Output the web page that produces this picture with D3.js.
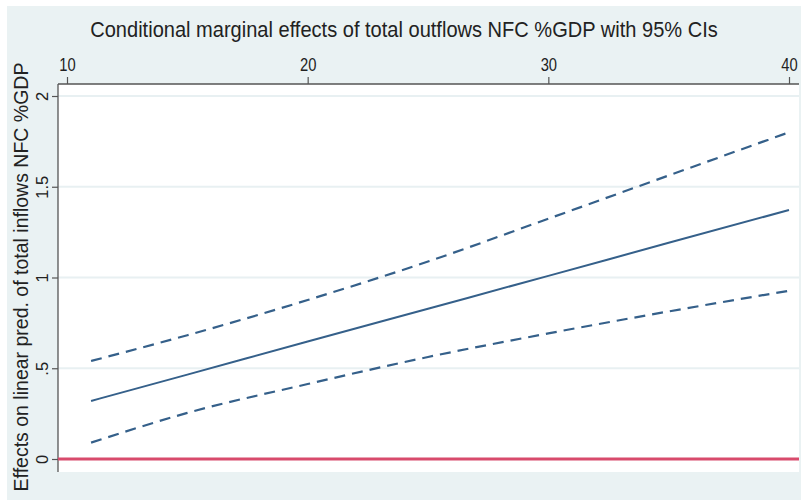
<!DOCTYPE html>
<html>
<head>
<meta charset="utf-8">
<script src="https://cdn.jsdelivr.net/npm/d3@7"></script>
<style>
  body { margin: 0; background: #ffffff; }
  svg { display: block; font-family: "Liberation Sans", Arial, sans-serif; }
</style>
</head>
<body>
<div id="chart"></div>
<script>
// values at total outflows NFC %GDP
const xValues = [11, 15, 20, 25, 30, 35, 40];
const effect  = [0.32, 0.465, 0.647, 0.828, 1.009, 1.191, 1.372];
const upperCI = [0.54, 0.682, 0.876, 1.088, 1.324, 1.562, 1.80];
const lowerCI = [0.09, 0.254, 0.413, 0.562, 0.692, 0.813, 0.927];

const xTicks = [10, 20, 30, 40];
const yTicks = [0, 0.5, 1, 1.5, 2];
const yTickLabels = ["0", ".5", "1", "1.5", "2"];

const title = "Conditional marginal effects of total outflows NFC %GDP with 95% CIs";
const yTitle = "Effects on linear pred. of total inflows NFC %GDP";

const width = 801, height = 500;
const plot = { left: 58, right: 799, top: 84, bottom: 472 };

const svg = d3.select("#chart").append("svg")
  .attr("width", width)
  .attr("height", height);

// background
svg.append("rect")
  .attr("x", 7).attr("y", 6)
  .attr("width", width - 7).attr("height", height - 6)
  .attr("fill", "#eaf2f3");

svg.append("rect")
  .attr("x", plot.left).attr("y", plot.top)
  .attr("width", plot.right - plot.left).attr("height", plot.bottom - plot.top)
  .attr("fill", "#ffffff");

const x = d3.scaleLinear().domain([10, 40]).range([67, 789]);
const y = d3.scaleLinear().domain([0, 2]).range([459, 96]);

// grid lines
svg.append("g")
  .selectAll("line")
  .data(yTicks.filter(d => d > 0))
  .enter().append("line")
  .attr("x1", plot.left).attr("x2", plot.right)
  .attr("y1", d => y(d)).attr("y2", d => y(d))
  .attr("stroke", "#e8f0f2")
  .attr("stroke-width", 2);

// top axis
const xAxis = svg.append("g")
  .attr("transform", `translate(0,${plot.top})`)
  .call(d3.axisTop(x).tickValues(xTicks).tickSize(7).tickPadding(6).tickSizeOuter(0));
xAxis.select(".domain").attr("d", `M${plot.left},0H${plot.right}`);

// left axis
const yAxis = svg.append("g")
  .attr("transform", `translate(${plot.left},0)`)
  .call(d3.axisLeft(y).tickValues(yTicks).tickFormat((d, i) => yTickLabels[i]).tickSize(6).tickSizeOuter(0));
yAxis.select(".domain").attr("d", `M0,${plot.top}V${plot.bottom}`);

svg.selectAll(".domain").attr("stroke", "#555").attr("stroke-width", 1.3);
svg.selectAll(".tick line").attr("stroke", "#555").attr("stroke-width", 1.2);

xAxis.selectAll("text")
  .attr("font-size", 18)
  .attr("fill", "#222")
  .attr("transform", "scale(0.82,1)");

yAxis.selectAll("text")
  .attr("font-size", 16.5)
  .attr("fill", "#222")
  .attr("text-anchor", "middle")
  .attr("x", 0).attr("dy", 0)
  .attr("transform", "translate(-10,0) rotate(-90)");

// zero line
svg.append("line")
  .attr("x1", plot.left).attr("x2", plot.right)
  .attr("y1", y(0)).attr("y2", y(0))
  .attr("stroke", "#d84a6c")
  .attr("stroke-width", 3);

// lines
const line = (vals) => d3.line()
  .x((d, i) => x(xValues[i]))
  .y(d => y(d))
  .curve(d3.curveMonotoneX)(vals);

svg.append("path")
  .attr("d", line(upperCI))
  .attr("fill", "none")
  .attr("stroke", "#35608a")
  .attr("stroke-width", 2.2)
  .attr("stroke-dasharray", "11,7");

svg.append("path")
  .attr("d", line(lowerCI))
  .attr("fill", "none")
  .attr("stroke", "#35608a")
  .attr("stroke-width", 2.2)
  .attr("stroke-dasharray", "11,7");

svg.append("path")
  .attr("d", line(effect))
  .attr("fill", "none")
  .attr("stroke", "#35608a")
  .attr("stroke-width", 2);

// title, squeezed a bit horizontally like the original
const t = svg.append("text")
  .attr("text-anchor", "middle")
  .attr("font-size", 23)
  .attr("fill", "#222")
  .text(title);
const k = 628 / t.node().getComputedTextLength();
t.attr("transform", `translate(404,37) scale(${k},1)`);

// y axis title
svg.append("text")
  .attr("transform", "translate(28,277) rotate(-90)")
  .attr("text-anchor", "middle")
  .attr("font-size", 19.5)
  .attr("fill", "#222")
  .text(yTitle);
</script>
</body>
</html>
